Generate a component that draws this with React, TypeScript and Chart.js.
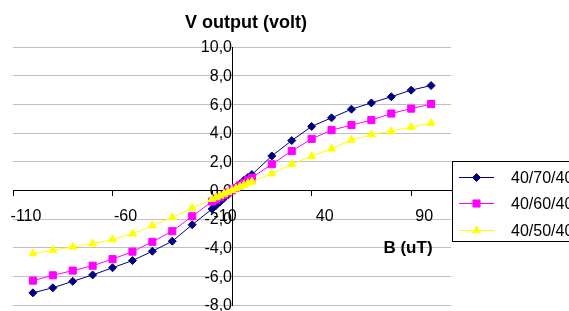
import React, { useEffect, useRef } from "react";
import { Chart, registerables } from "chart.js";

Chart.register(...registerables);

// ---- Data ----
const bValues = [-100, -90, -80, -70, -60, -50, -40, -30, -20, -10, -8, -6, -4, -2, 0, 2, 4, 6, 8, 10, 20, 30, 40, 50, 60, 70, 80, 90, 100];
const series70 = [-7.15, -6.8, -6.35, -5.9, -5.4, -4.9, -4.25, -3.55, -2.4, -1.3, -1.05, -0.8, -0.55, -0.3, -0.05, 0.2, 0.45, 0.7, 0.9, 1.1, 2.4, 3.47, 4.46, 5.06, 5.66, 6.1, 6.53, 6.99, 7.31];
const series60 = [-6.3, -5.93, -5.6, -5.26, -4.8, -4.28, -3.59, -2.85, -1.81, -0.78, -0.65, -0.48, -0.32, -0.15, 0.0, 0.17, 0.35, 0.52, 0.7, 0.88, 1.82, 2.74, 3.59, 4.2, 4.55, 4.9, 5.36, 5.7, 6.02];
const series50 = [-4.41, -4.18, -3.95, -3.72, -3.43, -3.03, -2.46, -1.89, -1.24, -0.62, -0.5, -0.38, -0.25, -0.12, 0.0, 0.12, 0.25, 0.37, 0.49, 0.6, 1.17, 1.82, 2.38, 2.9, 3.52, 3.89, 4.12, 4.41, 4.69];
const seriesNames = ["40/70/40", "40/60/40", "40/50/40"];
const xTickValues = [-110, -60, -10, 40, 90];
const xMin = -110;
const xMax = 110;
const yMin = -8;
const yMax = 10;
const yStep = 2;
const chartTitle = "V output (volt)";
const xAxisTitle = "B (uT)";

const FONT = '"Liberation Sans", Arial, Helvetica, sans-serif';
const colors = ["#000080", "#FF00FF", "#FFFF00"];
const pointStyles = ["rectRot", "rect", "triangle"] as const;
const pointRadii = [4, 5, 4.6];

function toPoints(ys: number[]) {
  return bValues.map((x, i) => ({ x, y: ys[i] }));
}

function drawMarker(ctx: CanvasRenderingContext2D, style: string, x: number, y: number, r: number) {
  ctx.beginPath();
  if (style === "rectRot") {
    ctx.moveTo(x, y - r);
    ctx.lineTo(x + r, y);
    ctx.lineTo(x, y + r);
    ctx.lineTo(x - r, y);
    ctx.closePath();
  } else if (style === "rect") {
    const s = Math.SQRT1_2 * r;
    ctx.rect(x - s, y - s, 2 * s, 2 * s);
  } else {
    const a = (2 * Math.PI) / 3;
    ctx.moveTo(x, y - r);
    ctx.lineTo(x + Math.sin(a) * r, y - Math.cos(a) * r);
    ctx.lineTo(x + Math.sin(2 * a) * r, y - Math.cos(2 * a) * r);
    ctx.closePath();
  }
  ctx.fill();
  ctx.stroke();
}

const overlayPlugin = {
  id: "overlay",
  afterDraw(chart: any) {
    const ctx: CanvasRenderingContext2D = chart.ctx;
    ctx.save();
    ctx.fillStyle = "#000";
    ctx.textAlign = "center";
    ctx.textBaseline = "middle";
    ctx.font = `bold 18px ${FONT}`;
    ctx.fillText(chartTitle, 246, 23);
    ctx.font = `bold 17px ${FONT}`;
    ctx.fillText(xAxisTitle, 408, 248);

    // legend box
    ctx.strokeStyle = "#000";
    ctx.lineWidth = 1;
    ctx.strokeRect(452.5, 161.5, 140, 80);
    const rows = [177.5, 203.5, 230.5];
    seriesNames.forEach((name, i) => {
      const y = rows[i];
      ctx.strokeStyle = colors[i];
      ctx.fillStyle = colors[i];
      ctx.lineWidth = 1;
      ctx.beginPath();
      ctx.moveTo(459, y);
      ctx.lineTo(494, y);
      ctx.stroke();
      drawMarker(ctx, pointStyles[i], 476.5, y, pointRadii[i]);
      ctx.fillStyle = "#000";
      ctx.font = `16px ${FONT}`;
      ctx.textAlign = "left";
      ctx.textBaseline = "middle";
      ctx.fillText(name, 511, y + 1);
    });
    ctx.restore();
  },
};

function zeroPadding(s: any) {
  s.paddingLeft = 0;
  s.paddingRight = 0;
  s.paddingTop = 0;
  s.paddingBottom = 0;
}

export default function App() {
  const ref = useRef<HTMLCanvasElement | null>(null);

  useEffect(() => {
    document.body.style.margin = "0";
    const canvas = ref.current;
    if (!canvas) return;
    const datasets = [series70, series60, series50].map((ys, i) => ({
      label: seriesNames[i],
      data: toPoints(ys),
      borderColor: colors[i],
      backgroundColor: colors[i],
      borderWidth: 1,
      pointStyle: pointStyles[i],
      pointRadius: pointRadii[i],
      pointBorderWidth: 1,
      pointBorderColor: colors[i],
      pointBackgroundColor: colors[i],
      showLine: true,
      tension: 0,
      order: 3 - i,
    }));

    const chart = new Chart(canvas, {
      type: "scatter",
      data: { datasets },
      options: {
        responsive: false,
        animation: false,
        devicePixelRatio: 1,
        layout: { padding: { left: 13, right: 118, top: 47, bottom: -2 } },
        plugins: {
          legend: { display: false },
          title: { display: false },
          tooltip: { enabled: false },
        },
        scales: {
          x: {
            type: "linear",
            min: xMin,
            max: xMax,
            position: { y: 0 },
            afterFit: (s: any) => {
              s.height = 0;
              zeroPadding(s);
            },
            afterBuildTicks: (s: any) => {
              s.ticks = xTickValues.map((v) => ({ value: v }));
            },
            grid: {
              display: true,
              drawOnChartArea: false,
              drawTicks: true,
              tickLength: 5,
              color: "#000",
            },
            border: { display: true, color: "#000", width: 1 },
            ticks: {
              autoSkip: false,
              maxRotation: 0,
              padding: 12,
              labelOffset: 13,
              color: "#000",
              font: { family: FONT, size: 16 },
              callback: (v: any) => String(v),
            },
          },
          y: {
            type: "linear",
            min: yMin,
            max: yMax,
            position: { x: 0 },
            afterFit: (s: any) => {
              s.width = 0;
              zeroPadding(s);
            },
            grid: {
              display: true,
              drawOnChartArea: true,
              drawTicks: false,
              tickLength: 0,
              color: "#c0c0c0",
            },
            border: { display: true, color: "#000", width: 1 },
            ticks: {
              stepSize: yStep,
              autoSkip: false,
              padding: 0,
              labelOffset: 1,
              color: "#000",
              font: { family: FONT, size: 16 },
              callback: (v: any) => Number(v).toFixed(1).replace(".", ","),
            },
          },
        },
      },
      plugins: [overlayPlugin],
    } as any);

    return () => chart.destroy();
  }, []);

  return (
    <div style={{ width: 569, height: 311, background: "#fff" }}>
      <canvas ref={ref} width={569} height={311} style={{ display: "block" }} />
    </div>
  );
}
